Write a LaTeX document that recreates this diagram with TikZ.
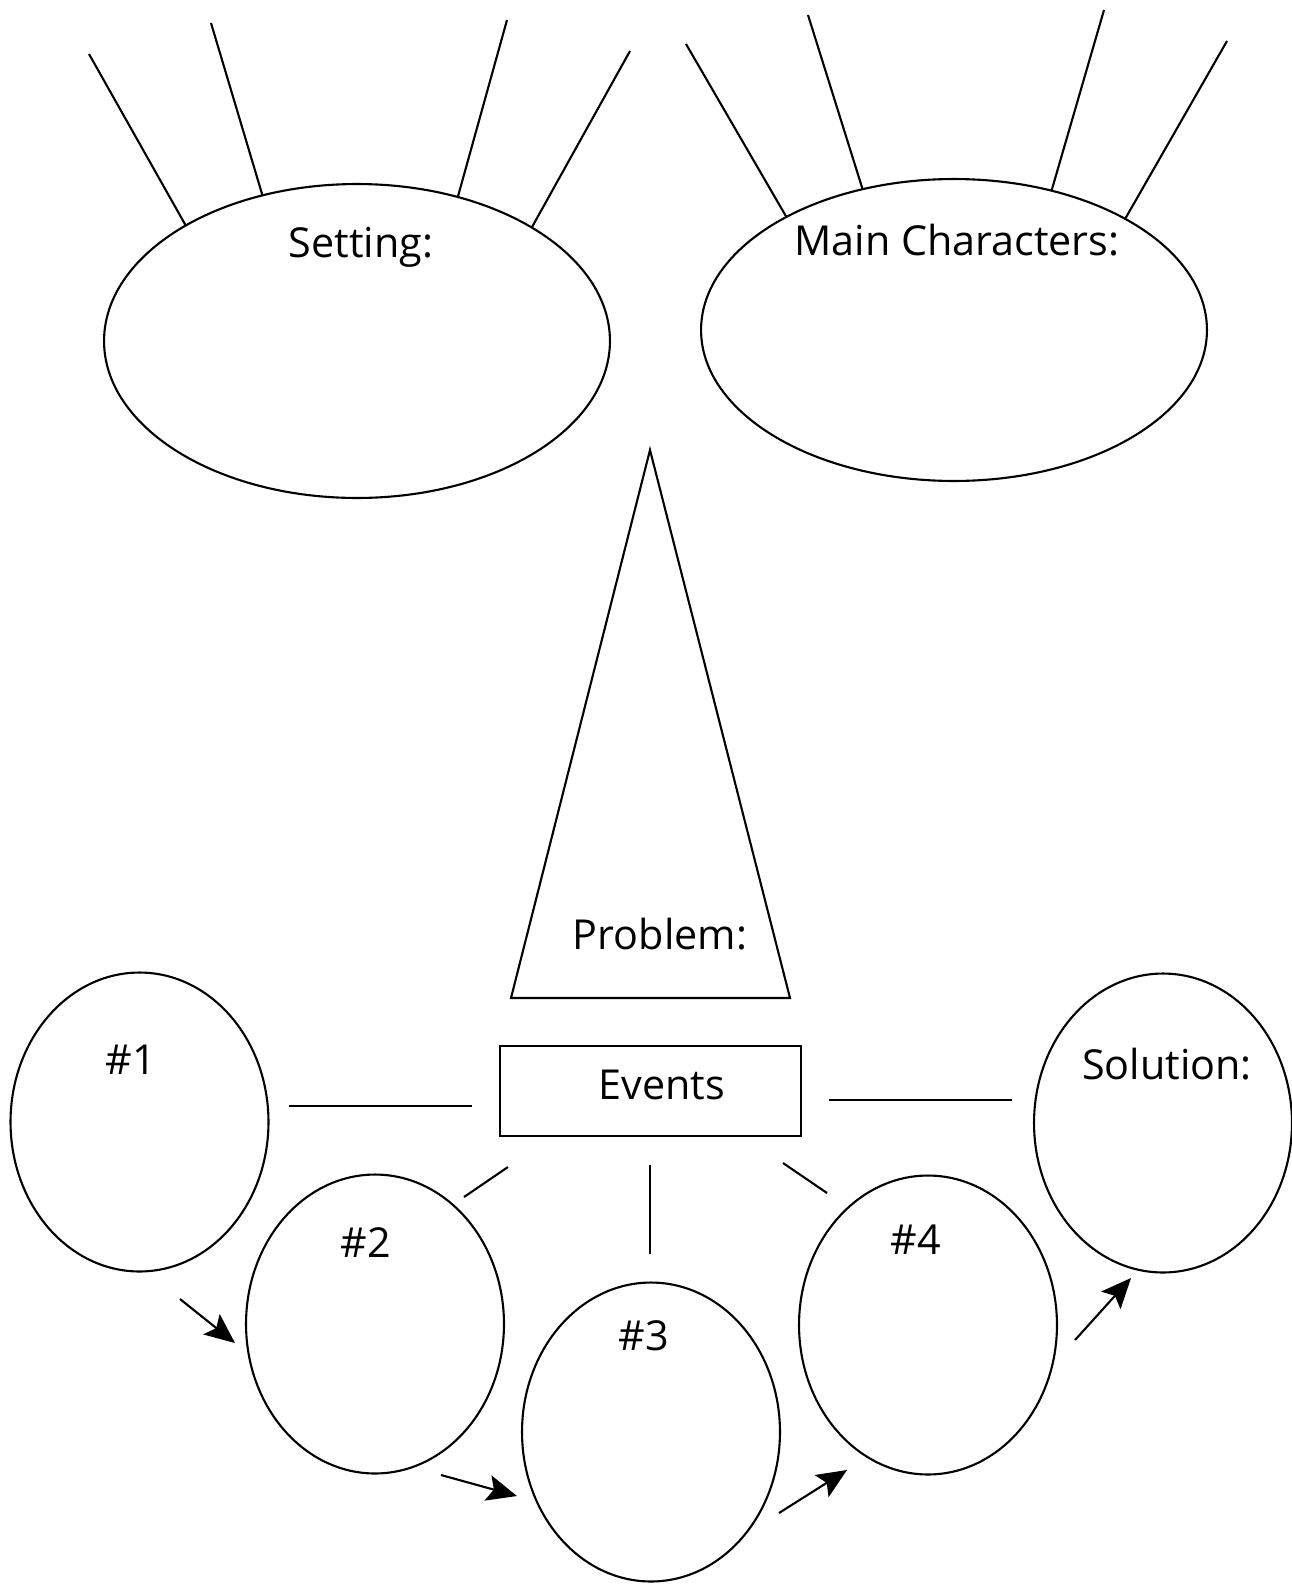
\documentclass[tikz,border=0pt]{standalone}
\usepackage{fontspec}
\setmainfont{Open Sans}
\usepackage{tikz}
\usetikzlibrary{shapes.geometric, arrows.meta, positioning, calc}

\begin{document}
\begin{tikzpicture}[x=0.02cm, y=-0.02cm, line width=1.2pt,
    bigoval/.style={draw, ellipse, inner sep=0pt, outer sep=0pt, minimum width=10.12cm},
    eventoval/.style={draw, ellipse, inner sep=0pt, outer sep=0pt, minimum width=5.16cm, minimum height=5.98cm},
    lbl/.style={font=\fontsize{23.5}{28}\selectfont, inner sep=0pt},
    flow/.style={-{Stealth[length=6mm, width=5.2mm, inset=1.2mm]}}]
\useasboundingbox (0,0) rectangle (1291,1585);

% top ovals
\node[bigoval, minimum height=6.28cm] (setting) at (357,341) {};
\node[bigoval, minimum height=6.04cm] (characters) at (954,330) {};
\node[lbl] (settinglbl) at (361,247) {Setting:};
\node[lbl] (characterslbl) at (957,240) {Main Characters:};

% lines on the ovals
\coordinate (s1) at (89,54);
\coordinate (s2) at (211,23);
\coordinate (s3) at (507,20);
\coordinate (s4) at (630,51);
\draw (s1) -- (setting.146);
\draw (s2) -- (setting.123);
\draw (s3) -- (setting.55);
\draw (s4) -- (setting.33.5);
\coordinate (c1) at (686,44);
\coordinate (c2) at (808,15);
\coordinate (c3) at (1104,10);
\coordinate (c4) at (1227,41);
\draw (c1) -- (characters.146);
\draw (c2) -- (characters.123);
\draw (c3) -- (characters.55);
\draw (c4) -- (characters.33.5);

% problem triangle
\coordinate (apex) at (650,450);
\coordinate (baseL) at (511,998);
\coordinate (baseR) at (790,998);
\draw (apex) -- (baseL) -- (baseR) -- cycle;
\node[lbl] (problem) at (660,934) {Problem:};

% events
\node[draw, inner sep=0pt, outer sep=0pt, minimum width=6.02cm, minimum height=1.8cm] (events) at (650.5,1091) {};
\node[lbl] (eventslbl) at (662,1085) {Events};

\node[eventoval] (e1) at (139.5,1122) {};
\node[eventoval] (e2) at (375,1324) {};
\node[eventoval] (e3) at (651,1432) {};
\node[eventoval] (e4) at (928,1325) {};
\node[eventoval] (sol) at (1163,1123) {};
\node[lbl] (e1lbl) at (131,1060) {\#1};
\node[lbl] (e2lbl) at (366,1243) {\#2};
\node[lbl] (e3lbl) at (644,1336) {\#3};
\node[lbl] (e4lbl) at (916,1240) {\#4};
\node[lbl] (sollbl) at (1167,1064) {Solution:};

% spokes
\coordinate (k1a) at (289,1106);  \coordinate (k1b) at (472,1106);
\coordinate (k2a) at (464,1197);  \coordinate (k2b) at (508,1167);
\coordinate (k3a) at (650,1165);  \coordinate (k3b) at (650,1254);
\coordinate (k4a) at (783,1163);  \coordinate (k4b) at (827,1193);
\coordinate (k5a) at (829,1100);  \coordinate (k5b) at (1012,1100);
\draw (k1a) -- (k1b);
\draw (k2a) -- (k2b);
\draw (k3a) -- (k3b);
\draw (k4a) -- (k4b);
\draw (k5a) -- (k5b);

% arrows
\coordinate (a1) at (180,1299);  \coordinate (b1) at (235,1343);
\coordinate (a2) at (441,1475);  \coordinate (b2) at (517,1496);
\coordinate (a3) at (779,1513);  \coordinate (b3) at (847,1470);
\coordinate (a4) at (1075,1340); \coordinate (b4) at (1131,1278);
\draw[flow] (a1) -- (b1);
\draw[flow] (a2) -- (b2);
\draw[flow] (a3) -- (b3);
\draw[flow] (a4) -- (b4);
\end{tikzpicture}
\end{document}
